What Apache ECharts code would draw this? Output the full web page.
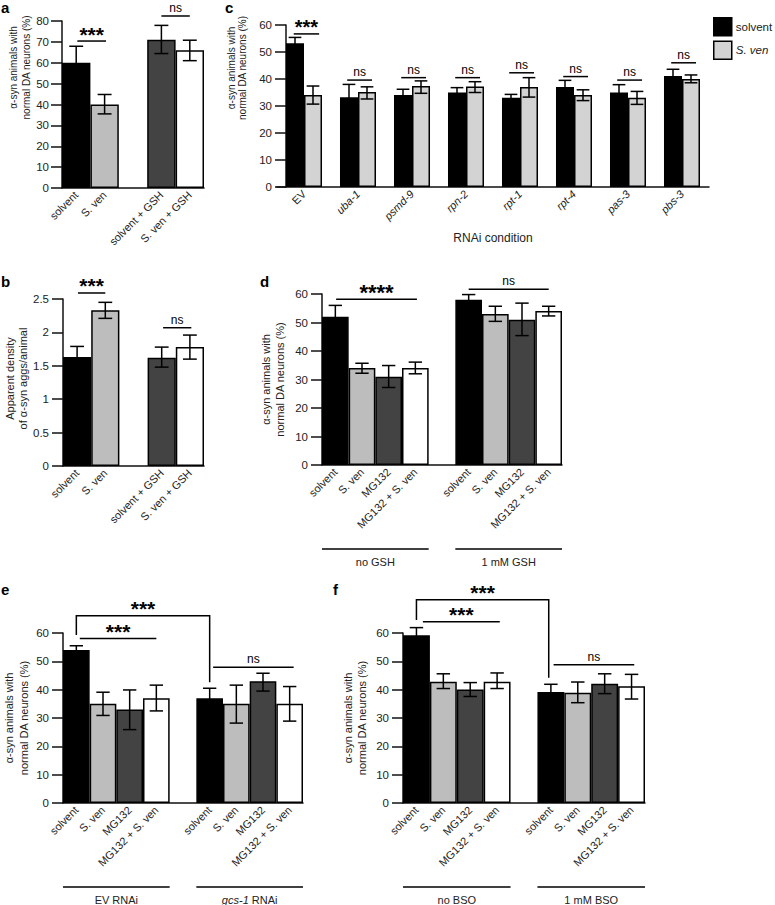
<!DOCTYPE html>
<html>
<head>
<meta charset="utf-8">
<script src="https://cdn.jsdelivr.net/npm/echarts@6/dist/echarts.min.js"></script>
<style>html,body{margin:0;padding:0;background:#fff}#chart{width:775px;height:905px}</style>
</head>
<body>
<div id="chart"></div>
<script>
// ---------------- DATA ----------------
// Panel a
const aCategories = ['solvent', 'S. ven', '', 'solvent + GSH', 'S. ven + GSH'];
const aValues = [60, 40, '-', 71, 66];
const aErrLow = [52.5, 35.5, null, 64.4, 61];
const aErrHigh = [67.9, 44.8, null, 77.9, 70.8];
const aSig = [[0.04, 1.05, 70.4], [3, 4, 82.4]];
const aSigLabels = ['***', 'ns'];
const aTicks = {max: 80, interval: 10};

// Panel b
const bCategories = ['solvent', 'S. ven', '', 'solvent + GSH', 'S. ven + GSH'];
const bValues = [1.63, 2.33, '-', 1.62, 1.78];
const bErrLow = [1.47, 2.21, null, 1.48, 1.6];
const bErrHigh = [1.79, 2.45, null, 1.78, 1.96];
const bSig = [[0.03, 1.0, 2.59], [3.05, 4.05, 2.07]];
const bSigLabels = ['***', 'ns'];
const bTicks = {max: 2.5, interval: 0.5};

// Panel c
const cCategories = ['EV', 'uba-1', 'psmd-9', 'rpn-2', 'rpt-1', 'rpt-4', 'pas-3', 'pbs-3'];
const cSolvent = [53.2, 33.2, 34.1, 35, 33.1, 37, 35, 41.1];
const cSolventLow = [51, 27.9, 32, 33.2, 32, 34.3, 32.2, 38.5];
const cSolventHigh = [55.4, 38, 36.2, 36.8, 34.3, 39.5, 37.9, 43.6];
const cSven = [34.1, 35.2, 37.4, 37.2, 37, 34.1, 33.1, 40];
const cSvenLow = [30.7, 32.6, 34.7, 35, 33.3, 32, 30.6, 38.6];
const cSvenHigh = [37.4, 37.1, 39.3, 39, 40.5, 36, 35.4, 41.5];
const cSig = [[-0.19, 0.28, 56.7], [0.8, 1.26, 39.6], [1.8, 2.26, 40.5], [2.8, 3.26, 40.5],
              [3.8, 4.26, 42.3], [4.8, 5.26, 40.9], [5.8, 6.26, 39.6], [6.8, 7.26, 46]];
const cSigLabels = ['***', 'ns', 'ns', 'ns', 'ns', 'ns', 'ns', 'ns'];
const cSeriesNames = ['solvent', 'S. ven'];
const cTicks = {max: 60, interval: 10};

// Panels d, e, f share the 4+4 layout
const treatCategories = ['solvent', 'S. ven', 'MG132', 'MG132 + S. ven', '',
                         'solvent', 'S. ven', 'MG132', 'MG132 + S. ven'];
const dValues = [52, 34, 31, 34, '-', 58, 53, 51, 54];
const dErrLow = [48, 32.2, 27.2, 32, null, 56.5, 50.4, 45.4, 52.3];
const dErrHigh = [56, 35.7, 34.9, 36.1, null, 59.8, 55.7, 56.8, 55.7];
const dSig = [[0.03, 3.06, 58.2], [5, 8, 61.7]];
const dSigLabels = ['****', 'ns'];
const dGroups = ['no GSH', '1 mM GSH'];

const eValues = [54, 35, 33, 37, '-', 37, 35, 43, 35];
const eErrLow = [52.5, 30.9, 25.9, 32.5, null, 33.5, 28.2, 39.5, 28.9];
const eErrHigh = [55.5, 39.1, 39.9, 41.6, null, 40.5, 41.6, 45.8, 41.1];
const eSig = [[0.13, 3.0, 58.1], [0, 5, 66.1, 59.3, 42.6], [5.13, 8.15, 47.9]];
const eSigLabels = ['***', '***', 'ns'];
const eGroups = ['EV RNAi', '{i|gcs-1} RNAi'];

const fValues = [59.2, 42.8, 40.1, 42.8, '-', 39.2, 38.9, 42.1, 41.2];
const fErrLow = [56.5, 40.4, 37.6, 40.4, null, 36.5, 35.4, 38.6, 36.7];
const fErrHigh = [61.9, 45.6, 42.5, 45.9, null, 41.9, 42.7, 45.6, 45.4];
const fSig = [[0.24, 3.1, 64.0], [0, 4.92, 71.7, 64.6, 44.2], [5.1, 8.1, 48.8]];
const fSigLabels = ['***', '***', 'ns'];
const fGroups = ['no BSO', '1 mM BSO'];
const treatTicks = {max: 60, interval: 10};

const groupSlots = [[0, 3], [5, 8]];

// ---------------- STYLE ----------------
const FONT = '"Liberation Sans", Arial, Helvetica, sans-serif';
const INK = '#111';
const BLACK = '#000000', LIGHT = '#bdbdbd', DARK = '#434343', WHITE = '#ffffff', CLIGHT = '#d3d3d3';
const fillAB = [BLACK, LIGHT, null, DARK, WHITE];
const fill4 = [BLACK, LIGHT, DARK, WHITE, null, BLACK, LIGHT, DARK, WHITE];

const chart = echarts.init(document.getElementById('chart'), null, {renderer: 'svg'});

function yAxisCfg(gi, ticks, name, n, extra) {
  return Object.assign({
    gridIndex: gi, type: 'value', min: 0, max: ticks.max, interval: ticks.interval,
    axisLine: {show: true, lineStyle: {color: INK, width: 1.5}},
    axisTick: {show: true, length: 11, lineStyle: {color: INK, width: 1.5}},
    axisLabel: {fontSize: 11.5, color: '#222', margin: 14, fontFamily: FONT},
    splitLine: {show: false},
    name: name, nameLocation: 'middle', nameGap: n.gap,
    nameTextStyle: {fontSize: n.size, lineHeight: n.lh, color: '#222', fontFamily: FONT,
                    padding: [0, 0, 0, n.shift * 2]}
  }, extra || {});
}
function xAxisCfg(gi, cats, extra) {
  return Object.assign({
    gridIndex: gi, type: 'category', data: cats,
    axisTick: {show: false},
    axisLine: {show: true, lineStyle: {color: INK, width: 1.5}},
    axisLabel: {interval: 0, rotate: 45, fontSize: 11, margin: 5, color: '#222', fontFamily: FONT}
  }, extra || {});
}
function barSeries(gi, vals, fills) {
  return {
    type: 'bar', xAxisIndex: gi, yAxisIndex: gi, barWidth: '100%', barGap: '0%',
    data: vals.map((v, i) => ({value: v, itemStyle: {color: fills[i] || WHITE}})),
    itemStyle: {borderColor: '#000', borderWidth: 1.5}, silent: true
  };
}
function errRender(capFrac) {
  return function (params, api) {
    const i = api.value(0), off = api.value(1), lo = api.value(2), hi = api.value(3);
    if (isNaN(lo) || isNaN(hi)) return null;
    const band = api.size([1, 0])[0];
    const p0 = api.coord([i, lo]), p1 = api.coord([i, hi]);
    const x = p0[0] + off * band;
    const cw = capFrac * band / 2;
    const st = {stroke: '#000', lineWidth: 1.5, fill: null};
    return {type: 'group', children: [
      {type: 'line', shape: {x1: x, y1: p0[1], x2: x, y2: p1[1]}, style: st},
      {type: 'line', shape: {x1: x - cw, y1: p1[1], x2: x + cw, y2: p1[1]}, style: st},
      {type: 'line', shape: {x1: x - cw, y1: p0[1], x2: x + cw, y2: p0[1]}, style: st}
    ]};
  };
}
function errSeries(gi, low, high, off, capFrac) {
  const data = [];
  low.forEach((l, i) => { if (l !== null) data.push([i, off, l, high[i]]); });
  return {type: 'custom', xAxisIndex: gi, yAxisIndex: gi, renderItem: errRender(capFrac),
          dimensions: ['x', 'off', 'lo', 'hi'], encode: {x: 0, y: [2, 3]}, data: data, clip: false, silent: true, z: 3};
}
function sigRender(labels, starSize) {
  return function (params, api) {
    const x1 = api.value(0), x2 = api.value(1), y = api.value(2), l1 = api.value(3), l2 = api.value(4);
    const band = api.size([1, 0])[0];
    const o = api.coord([0, y]);
    const X1 = o[0] + x1 * band, X2 = o[0] + x2 * band, Y = o[1];
    const st = {stroke: '#000', lineWidth: 1.5, fill: null};
    const ch = [];
    if (!isNaN(l1) && !isNaN(l2)) {
      const b1 = api.coord([0, l1])[1], b2 = api.coord([0, l2])[1];
      ch.push({type: 'polyline', shape: {points: [[X1, b1], [X1, Y], [X2, Y], [X2, b2]]}, style: st});
    } else {
      ch.push({type: 'line', shape: {x1: X1, y1: Y, x2: X2, y2: Y}, style: st});
    }
    const txt = labels[params.dataIndex];
    const isStar = txt.indexOf('*') >= 0;
    ch.push({type: 'text', style: {
      text: txt, x: (X1 + X2) / 2, y: isStar ? Y - 7 : Y - 8,
      align: 'center', verticalAlign: 'middle',
      fontSize: isStar ? starSize : 12, fontWeight: isStar ? 'bold' : 'normal', fontFamily: FONT, fill: '#000'
    }});
    return {type: 'group', children: ch};
  };
}
function sigSeries(gi, sig, labels, starSize) {
  const data = sig.map(s => [s[0], s[1], s[2], s.length > 3 ? s[3] : null, s.length > 4 ? s[4] : null]);
  return {type: 'custom', xAxisIndex: gi, yAxisIndex: gi, renderItem: sigRender(labels, starSize),
          dimensions: ['x1', 'x2', 'y', 'l1', 'l2'], encode: {y: 2}, data: data, clip: false, silent: true, z: 4};
}

const yName = 'α-syn animals with\nnormal DA neurons (%)';

const option = {
  animation: false,
  textStyle: {fontFamily: FONT},
  grid: [
    {left: 62, top: 21, width: 142, height: 167},
    {left: 63, top: 299, width: 141, height: 167},
    {left: 277, top: 25, width: 432, height: 162},
    {left: 322, top: 294, width: 240, height: 171},
    {left: 63, top: 633, width: 240, height: 170},
    {left: 403, top: 633, width: 242, height: 170}
  ],
  legend: {
    data: cSeriesNames, orient: 'vertical', left: 713, top: 17, padding: 0, itemWidth: 18, itemHeight: 18, itemGap: 4,
    icon: 'rect', itemStyle: {borderColor: '#000', borderWidth: 1.5},
    textStyle: {fontSize: 11.5, color: '#222', fontFamily: FONT, padding: [0, 0, 0, -1],
      rich: {i: {fontStyle: 'italic', fontSize: 11.5, color: '#222', fontFamily: FONT}}},
    formatter: n => n === 'S. ven' ? '{i|S. ven}' : n
  },
  xAxis: [
    xAxisCfg(0, aCategories),
    xAxisCfg(1, bCategories),
    xAxisCfg(2, cCategories, {
      name: 'RNAi condition', nameLocation: 'middle', nameGap: 45,
      nameTextStyle: {fontSize: 12, color: '#222', fontFamily: FONT},
      axisLabel: {interval: 0, rotate: 45, fontSize: 11, margin: 5, color: '#222', fontFamily: FONT,
        formatter: v => v === 'EV' ? v : '{i|' + v + '}',
        rich: {i: {fontStyle: 'italic', fontSize: 11, color: '#222', fontFamily: FONT}}}
    }),
    xAxisCfg(3, treatCategories),
    xAxisCfg(4, treatCategories),
    xAxisCfg(5, treatCategories)
  ],
  yAxis: [
    yAxisCfg(0, aTicks, yName, {gap: 23, size: 10, lh: 12.5, shift: 37}, {axisLabel: {fontSize: 11.5, color: '#222', margin: 13, fontFamily: FONT}}),
    yAxisCfg(1, bTicks, 'Apparent density\nof α-syn aggs/animal', {gap: 30, size: 11, lh: 12.5, shift: 4}),
    yAxisCfg(2, cTicks, yName, {gap: 35, size: 10, lh: 11, shift: 38}, {offset: -9}),
    yAxisCfg(3, treatTicks, yName, {gap: 35, size: 11, lh: 14, shift: 0}),
    yAxisCfg(4, treatTicks, yName, {gap: 32, size: 11, lh: 14.5, shift: 0}),
    yAxisCfg(5, treatTicks, yName, {gap: 34, size: 11, lh: 14, shift: 0})
  ],
  series: [
    barSeries(0, aValues, fillAB),
    errSeries(0, aErrLow, aErrHigh, 0, 0.49),
    sigSeries(0, aSig, aSigLabels, 21),

    barSeries(1, bValues, fillAB),
    errSeries(1, bErrLow, bErrHigh, 0, 0.49),
    sigSeries(1, bSig, bSigLabels, 21),

    {type: 'bar', name: cSeriesNames[0], xAxisIndex: 2, yAxisIndex: 2, data: cSolvent, barGap: '0%', barCategoryGap: '33.3%',
     itemStyle: {color: BLACK, borderColor: '#000', borderWidth: 1.5}, silent: true},
    {type: 'bar', name: cSeriesNames[1], xAxisIndex: 2, yAxisIndex: 2, data: cSven, barGap: '0%', barCategoryGap: '33.3%',
     itemStyle: {color: CLIGHT, borderColor: '#000', borderWidth: 1.5}, silent: true},
    errSeries(2, cSolventLow, cSolventHigh, -1 / 6, 0.235),
    errSeries(2, cSvenLow, cSvenHigh, 1 / 6, 0.235),
    sigSeries(2, cSig, cSigLabels, 20),

    barSeries(3, dValues, fill4),
    errSeries(3, dErrLow, dErrHigh, 0, 0.5),
    sigSeries(3, dSig, dSigLabels, 22),

    barSeries(4, eValues, fill4),
    errSeries(4, eErrLow, eErrHigh, 0, 0.5),
    sigSeries(4, eSig, eSigLabels, 21),

    barSeries(5, fValues, fill4),
    errSeries(5, fErrLow, fErrHigh, 0, 0.5),
    sigSeries(5, fSig, fSigLabels, 21)
  ]
};
chart.setOption(option);

// Panel letters and group labels below d, e, f (positions derived from the axes)
const letters = [['a', 1, 6], ['b', 1, 280], ['c', 225, 6], ['d', 260, 280], ['e', 1, 588], ['f', 333, 588]];
const graphics = letters.map(l => ({type: 'text', left: l[1], top: l[2] - 6, silent: true,
  style: {text: l[0], fontSize: 15, fontWeight: 'bold', fontFamily: FONT, fill: '#000'}}));
[[3, dGroups], [4, eGroups], [5, fGroups]].forEach(([gi, names]) => {
  const p0 = chart.convertToPixel({gridIndex: gi}, [0, 0]);
  const p1 = chart.convertToPixel({gridIndex: gi}, [1, 0]);
  const band = p1[0] - p0[0];
  names.forEach((nm, k) => {
    const a = chart.convertToPixel({gridIndex: gi}, [groupSlots[k][0], 0]);
    const b = chart.convertToPixel({gridIndex: gi}, [groupSlots[k][1], 0]);
    const x1 = a[0] - band / 2, x2 = b[0] + band / 2, ly = a[1] + 84;
    graphics.push({type: 'line', silent: true, shape: {x1: x1, y1: ly, x2: x2, y2: ly}, style: {stroke: '#000', lineWidth: 1.5}});
    graphics.push({type: 'text', silent: true, x: (x1 + x2) / 2, y: ly + 13,
      style: {text: nm, align: 'center', verticalAlign: 'middle', fontSize: 11, fontFamily: FONT, fill: '#222',
              rich: {i: {fontStyle: 'italic', fontSize: 11, fontFamily: FONT, fill: '#222'}}}});
  });
});
chart.setOption({graphic: graphics});
</script>
</body>
</html>
